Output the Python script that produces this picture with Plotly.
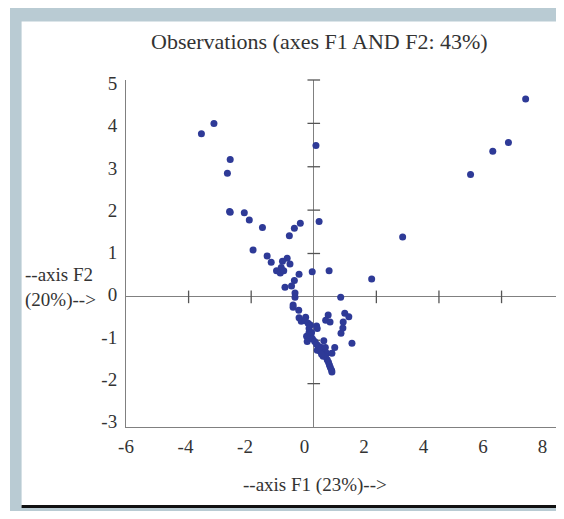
import plotly.graph_objects as go

# ---------------- data ----------------
F1 = [-3.59, -3.19, -2.67, -2.76, -2.69, -2.67, -2.22, -2.06, -1.64, 0.07, 0.17, -0.43, -0.62, -0.78,
      -1.94, -1.49, -1.36, -0.85, -1.00, -0.76, -1.04, -1.19, -1.07, -0.96, -0.47, -0.62, -0.92, -0.71,
      -0.05, 0.49, 1.85,
      0.86, -0.60, -0.60, -0.66, -0.66, -0.48, -0.47, -0.40, -0.26, -0.28, -0.18, -0.11, -0.15, 0.09,
      0.11, 0.46, 0.38, 0.52, 0.99, 1.12, 0.94, 0.93, 0.87, 1.22, -0.23, -0.09, -0.21, -0.04, -0.15,
      -0.07, 0.03, 0.09, 0.11, 0.32, 0.14, 0.25, 0.37, 0.19, 0.32, 0.42, 0.58, 0.67, 0.37, 0.43, 0.47,
      0.50, 0.53, 0.57, 0.58, 0.30, 0.25,
      6.77, 6.22, 5.72, 5.01, 2.84]
F2 = [3.76, 4.00, 3.17, 2.85, 1.97, 1.95, 1.94, 1.77, 1.60, 3.49, 1.74, 1.70, 1.58, 1.41,
      1.08, 0.94, 0.80, 0.89, 0.82, 0.76, 0.68, 0.60, 0.55, 0.60, 0.52, 0.38, 0.22, 0.25,
      0.58, 0.60, 0.41,
      -0.01, 0.09, -0.01, -0.19, -0.24, -0.31, -0.48, -0.56, -0.47, -0.55, -0.61, -0.65, -0.73, -0.67,
      -0.73, -0.42, -0.54, -0.58, -0.38, -0.46, -0.58, -0.72, -0.84, -1.07, -0.91, -0.91, -1.03, -0.97, -0.82,
      -0.82, -1.03, -1.09, -1.23, -1.01, -1.13, -1.17, -1.17, -1.24, -1.30, -1.30, -1.30, -1.17, -1.37, -1.45, -1.51,
      -1.57, -1.63, -1.69, -1.73, -1.37, -1.32,
      4.56, 3.56, 3.36, 2.82, 1.38]

X_TICK_VALUES = [-6, -4, -2, 0, 2, 4, 6, 8]
X_TICK_LABELS = ["-6", "-4", "-2", "0", "2", "4", "6", "8"]
Y_TICK_VALUES = [-3, -2, -1, 0, 1, 2, 3, 4, 5]
Y_TICK_LABELS = ["-3", "-2", "-1", "0", "1", "2", "3", "4", "5"]
X_AXIS_MARKS = [-4, -2, 2, 4, 6]
Y_AXIS_MARKS = [-2, -1, 1, 2, 3, 4, 5]

TITLE = "Observations (axes F1 AND F2: 43%)"
X_TITLE = "--axis F1 (23%)-->"
Y_TITLE = "--axis F2<br>(20%)-->"

# ---------------- layout geometry ----------------
# the page body keeps an 8 px margin, so the figure is sized to fit inside the window
OFF = 8
W, H = 564 - 2 * OFF, 519 - 2 * OFF
ML, MR, MT, MB = 118, 0, 72, 84
PW, PH = W - ML - MR, H - MT - MB


def px(x):
    """window x pixel -> paper fraction"""
    return (x - OFF - ML) / PW


def py(y):
    """window y pixel -> paper fraction"""
    return (H - MB - (y - OFF)) / PH


FONT = "Liberation Serif, Times New Roman, serif"
TXT = "#333333"
AXC = "#808080"
DOT = "#2E3A97"
BAND = "#B9CBD3"

fig = go.Figure()

# tick marks across the zero lines
fig.add_trace(go.Scatter(x=X_AXIS_MARKS, y=[0] * len(X_AXIS_MARKS), mode="markers",
                         marker=dict(symbol="line-ns", size=9, line=dict(width=1.3, color="#555555")),
                         hoverinfo="skip", showlegend=False))
fig.add_trace(go.Scatter(x=[0] * len(Y_AXIS_MARKS), y=Y_AXIS_MARKS, mode="markers",
                         marker=dict(symbol="line-ew", size=9, line=dict(width=1.3, color="#555555")),
                         hoverinfo="skip", showlegend=False, cliponaxis=False))

# observations
fig.add_trace(go.Scatter(x=F1, y=F2, mode="markers",
                         marker=dict(size=7, color=DOT, line=dict(width=0)),
                         showlegend=False, name="Observations"))

# empty trace to carry the labelled axes
fig.add_trace(go.Scatter(x=[], y=[], xaxis="x2", yaxis="y2", showlegend=False, hoverinfo="skip"))

fig.update_layout(
    width=W, height=H,
    margin=dict(l=ML, r=MR, t=MT, b=MB, pad=0),
    paper_bgcolor="white", plot_bgcolor="rgba(0,0,0,0)",
    font=dict(family=FONT, size=19, color=TXT),
    xaxis=dict(range=[-6, 7.74], showgrid=False, zeroline=True, zerolinecolor=AXC, zerolinewidth=1.3,
               showline=True, linecolor=AXC, linewidth=1.3, showticklabels=False, ticks="",
               fixedrange=True),
    yaxis=dict(range=[-3, 5], showgrid=False, zeroline=True, zerolinecolor=AXC, zerolinewidth=1.3,
               showline=True, linecolor=AXC, linewidth=1.3, showticklabels=False, ticks="",
               fixedrange=True),
    xaxis2=dict(overlaying="x", anchor="y2", side="bottom", range=[-6, 8.45],
                tickvals=X_TICK_VALUES, ticktext=X_TICK_LABELS, ticks="outside",
                ticklen=2, tickcolor="rgba(0,0,0,0)", showgrid=False, zeroline=False,
                showline=False, tickfont=dict(family=FONT, size=19, color=TXT), fixedrange=True),
    yaxis2=dict(overlaying="y", anchor="x2", side="left", range=[-3.125, 5.078],
                tickvals=Y_TICK_VALUES, ticktext=Y_TICK_LABELS, ticks="outside",
                ticklen=4, tickcolor="rgba(0,0,0,0)", showgrid=False, zeroline=False,
                showline=False, tickfont=dict(family=FONT, size=19, color=TXT), fixedrange=True),
    shapes=[
        dict(type="rect", xref="paper", yref="paper", x0=px(10), x1=px(556), y0=py(6.5), y1=py(511),
             fillcolor=BAND, line=dict(width=0), layer="below"),
        dict(type="rect", xref="paper", yref="paper", x0=px(21.6), x1=px(556), y0=py(21.6), y1=py(506),
             fillcolor="white", line=dict(width=0), layer="below"),
        dict(type="line", xref="paper", yref="paper", x0=px(21.6), x1=px(556), y0=py(506.5), y1=py(506.5),
             line=dict(width=3, color="#111111"), layer="below"),
    ],
    annotations=[
        dict(text=TITLE, xref="paper", yref="paper", x=px(319), y=py(41), xanchor="center", yanchor="middle",
             showarrow=False, font=dict(family=FONT, size=22, color=TXT)),
        dict(text=X_TITLE, xref="paper", yref="paper", x=px(314.5), y=py(485), xanchor="center",
             yanchor="middle", showarrow=False, font=dict(family=FONT, size=19, color=TXT)),
        dict(text=Y_TITLE, xref="paper", yref="paper", x=px(23), y=py(287), xanchor="left",
             yanchor="middle", align="left", showarrow=False, font=dict(family=FONT, size=19, color=TXT)),
    ],
)

fig.write_html("out.html")
